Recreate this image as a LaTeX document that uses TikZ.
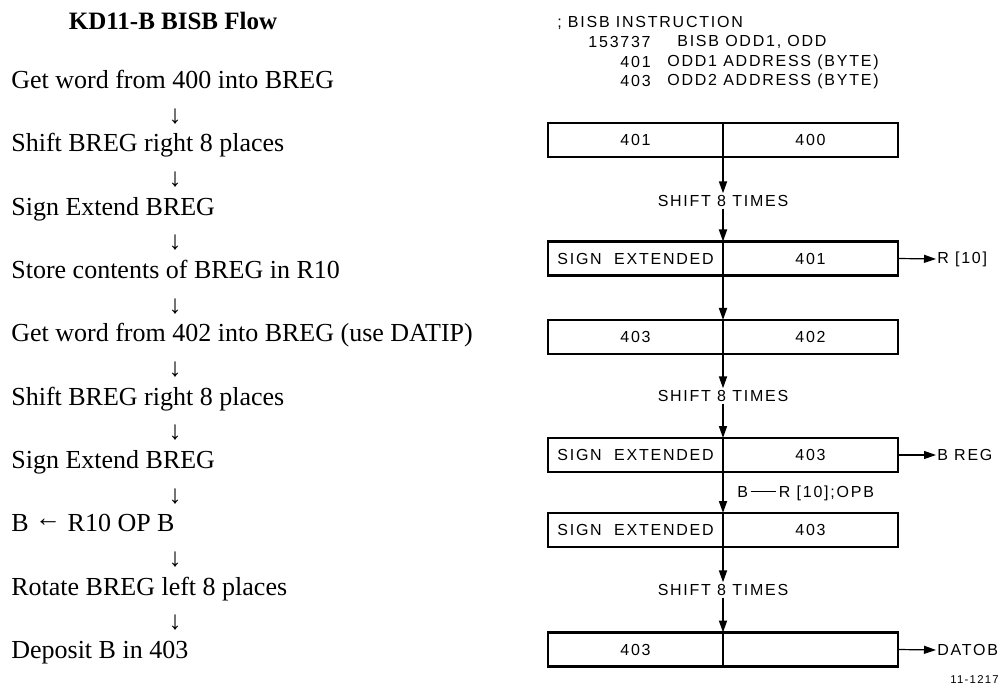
\documentclass[tikz,border=0pt]{standalone}
\usepackage{fontspec}
\setmainfont{Liberation Serif}
\newfontfamily\regfont[LetterSpace=11]{Liberation Sans}
\usetikzlibrary{positioning,arrows.meta}
\begin{document}
\begin{tikzpicture}[x=0.75pt,y=-0.75pt,
  every node/.style={inner sep=1pt, outer sep=0pt},
  flowtext/.style={anchor=west, font=\fontsize{19.5}{22}\selectfont, text height=0.68em, text depth=0.2em},
  flowdown/.style={font=\fontsize{19.5}{22}\selectfont},
  hdr/.style={font=\regfont\fontsize{12}{14}\selectfont},
  regcell/.style={draw, line width=1.7pt, minimum width=131.25pt, minimum height=25.5pt, inner sep=0pt, font=\regfont\fontsize{12}{14}\selectfont},
  shiftlbl/.style={font=\regfont\fontsize{12}{14}\selectfont, inner sep=1.5pt},
  outlbl/.style={anchor=west, font=\regfont\fontsize{12}{14}\selectfont},
  flow/.style={line width=1.3pt, -{Triangle[length=9pt,width=6pt]}},
  outarrow/.style={line width=0.9pt, -{Triangle[length=9pt,width=6pt]}}]
\useasboundingbox (0,0) rectangle (1000,695);
% left column
\node[font=\bfseries\fontsize{18.75}{22}\selectfont] (title) at (173,21) {KD11-B BISB Flow};
\node[flowtext] (s0) at (10,85) {Get word from 400 into BREG};
\node[flowdown] (d0) at (175,117) {↓};
\node[flowtext] (s1) at (10,148) {Shift BREG right 8 places};
\node[flowdown] (d1) at (175,180) {↓};
\node[flowtext] (s2) at (10,212) {Sign Extend BREG};
\node[flowdown] (d2) at (175,243) {↓};
\node[flowtext] (s3) at (10,275) {Store contents of BREG in R10};
\node[flowdown] (d3) at (175,307) {↓};
\node[flowtext] (s4) at (10,338) {Get word from 402 into BREG (use DATIP)};
\node[flowdown] (d4) at (175,370) {↓};
\node[flowtext] (s5) at (10,402) {Shift BREG right 8 places};
\node[flowdown] (d5) at (175,433) {↓};
\node[flowtext] (s6) at (10,465) {Sign Extend BREG};
\node[flowdown] (d6) at (175,497) {↓};
\node[flowtext] (s7) at (10,528) {B \raisebox{0.18em}{←} R10 OP B};
\node[flowdown] (d7) at (175,560) {↓};
\node[flowtext] (s8) at (10,592) {Rotate BREG left 8 places};
\node[flowdown] (d8) at (175,623) {↓};
\node[flowtext] (s9) at (10,655) {Deposit B in 403};
% instruction header
\node[hdr, anchor=west] (hdra) at (556,23) {; BISB INSTRUCTION};
\node[hdr, anchor=east] (hdrbnum) at (652,42) {153737};
\node[hdr, anchor=west] (hdrbtxt) at (676,42) {BISB ODD1, ODD};
\node[hdr, anchor=east] (hdrcnum) at (652,62) {401};
\node[hdr, anchor=west] (hdrctxt) at (666,62) {ODD1 ADDRESS (BYTE)};
\node[hdr, anchor=east] (hdrdnum) at (652,81) {403};
\node[hdr, anchor=west] (hdrdtxt) at (666,81) {ODD2 ADDRESS (BYTE)};
% registers
\node[regcell] (r1l) at (635.5,140) {401};
\node[regcell, right=0pt of r1l] (r1r) {400};
\node[shiftlbl] (sh1) at (723,201) {SHIFT 8 TIMES};
\node[regcell] (r2l) at (635.5,258.5) {SIGN\ \ EXTENDED};
\node[regcell, right=0pt of r2l] (r2r) {401};
\node[regcell] (r3l) at (635.5,337) {403};
\node[regcell, right=0pt of r3l] (r3r) {402};
\node[shiftlbl] (sh2) at (723,396) {SHIFT 8 TIMES};
\node[regcell] (r4l) at (635.5,455) {SIGN\ \ EXTENDED};
\node[regcell, right=0pt of r4l] (r4r) {403};
\node[hdr, anchor=west] (oplbl) at (736,493) {B\,\rule[0.33em]{1.6em}{0.6pt}\,R [10];OPB};
\node[regcell] (r5l) at (635.5,530) {SIGN\ \ EXTENDED};
\node[regcell, right=0pt of r5l] (r5r) {403};
\node[shiftlbl] (sh3) at (723,590) {SHIFT 8 TIMES};
\node[regcell] (r6l) at (635.5,649.5) {403};
\node[regcell, right=0pt of r6l] (r6r) {};
% outputs
\node[outlbl] (rten) at (936,259) {R [10]};
\node[outlbl] (breg) at (936,455) {B REG};
\node[outlbl] (datob) at (936,650) {DATOB};
\node[font=\regfont\fontsize{8.5}{10}\selectfont, anchor=east] (fignum) at (1000,680) {11-1217};
% connectors
\draw[flow] (r1l.south east) -- (r1l.south east |- sh1.north);
\draw[flow] (r1l.south east |- sh1.south) -- (r2l.north east);
\draw[flow] (r2l.south east) -- (r3l.north east);
\draw[flow] (r3l.south east) -- (r3l.south east |- sh2.north);
\draw[flow] (r3l.south east |- sh2.south) -- (r4l.north east);
\draw[flow] (r4l.south east) -- (r5l.north east);
\draw[flow] (r5l.south east) -- (r5l.south east |- sh3.north);
\draw[flow] (r5l.south east |- sh3.south) -- (r6l.north east);
\draw[outarrow] (r2r.east) -- (rten.west);
\draw[outarrow] (r4r.east) -- (breg.west);
\draw[outarrow] (r6r.east) -- (datob.west);
\end{tikzpicture}
\end{document}
